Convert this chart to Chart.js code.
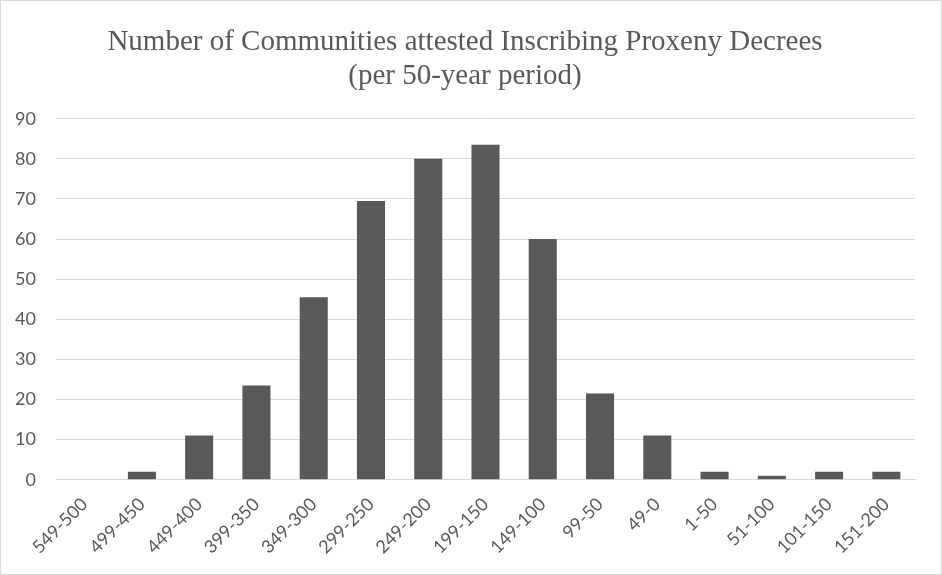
<!DOCTYPE html>
<html>
<head>
<meta charset="utf-8">
<script src="https://cdn.jsdelivr.net/npm/chart.js@4"></script>
<style>
  html, body { margin: 0; padding: 0; background: #fff; }
  #wrap { width: 940px; height: 573px; border: 1px solid #d9d9d9; }
</style>
</head>
<body>
<div id="wrap"><canvas id="proxenyChart" width="940" height="573"></canvas></div>
<script>
const periods = ["549-500", "499-450", "449-400", "399-350", "349-300", "299-250", "249-200",
    "199-150", "149-100", "99-50", "49-0", "1-50", "51-100", "101-150", "151-200"];
const communities = [0, 2, 11, 23.5, 45.5, 69.5, 80, 83.5, 60, 21.5, 11, 2, 1, 2, 2];
const titleLines = ["Number of Communities attested Inscribing Proxeny Decrees", "(per 50-year period)"];

document.addEventListener("DOMContentLoaded", function () {
    const ctx = document.getElementById("proxenyChart").getContext("2d");

    new Chart(ctx, {
        type: "bar",
        data: {
            labels: periods,
            datasets: [
                {
                    label: "Communities",
                    data: communities,
                    backgroundColor: "#595959",
                    borderWidth: 0,
                    categoryPercentage: 1,
                    barPercentage: 0.49
                }
            ]
        },
        options: {
            responsive: false,
            animation: false,
            layout: { padding: { left: 14, right: 26, top: 0, bottom: 10 } },
            plugins: {
                legend: { display: false },
                tooltip: { enabled: false },
                title: {
                    display: true,
                    text: titleLines,
                    color: "#595959",
                    font: { family: "'Liberation Serif', 'Times New Roman', serif", size: 29, weight: "normal", lineHeight: 1.15 },
                    padding: { top: 25, bottom: 26 }
                }
            },
            scales: {
                x: {
                    grid: { display: false },
                    border: { color: "#d9d9d9", width: 1 },
                    afterFit: function (scale) {
                        // rotated first label may hang left of the plot, like in Excel
                        scale.paddingLeft = 0;
                    },
                    ticks: {
                        color: "#595959",
                        font: { family: "Lato, 'Open Sans', sans-serif", size: 18 },
                        maxRotation: 45,
                        minRotation: 45,
                        padding: 6
                    }
                },
                y: {
                    min: 0,
                    max: 90,
                    afterFit: function (scale) {
                        scale.width = 41;
                    },
                    grid: { color: "#d9d9d9", lineWidth: 1, drawTicks: false },
                    border: { display: false },
                    ticks: {
                        stepSize: 10,
                        color: "#595959",
                        font: { family: "Lato, 'Open Sans', sans-serif", size: 18 },
                        padding: 20
                    }
                }
            }
        }
    });
});
</script>
</body>
</html>
